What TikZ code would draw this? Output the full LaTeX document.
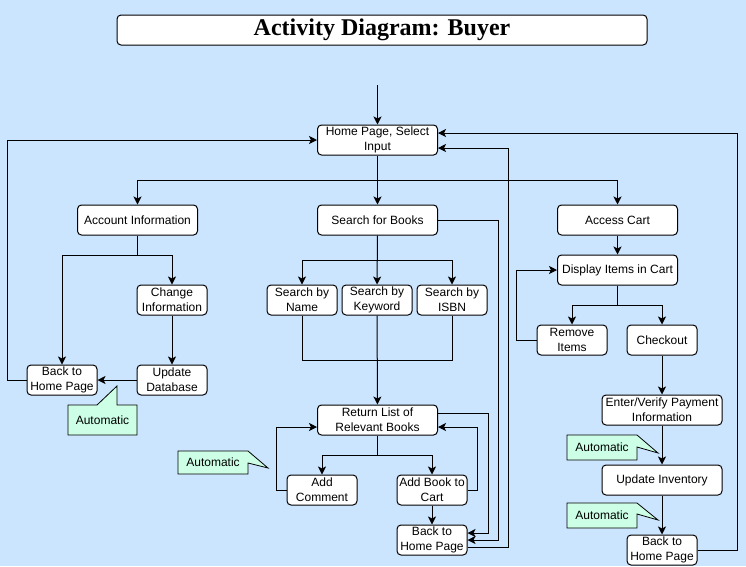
\documentclass[tikz,border=0pt]{standalone}
\usepackage{fontspec}
\setmainfont{Liberation Serif}
\setsansfont{Liberation Sans}
\usepackage{tikz}
\usetikzlibrary{arrows.meta,calc}
\definecolor{bg_blue}{RGB}{204, 229, 255}
\definecolor{note_green}{RGB}{204, 255, 230}
\tikzstyle{act}=[rectangle,rounded corners=4pt,fill=white,draw=black,
  line width=1pt,inner sep=1pt,align=center,minimum height=30pt,
  font=\sffamily\fontsize{12}{15}\selectfont]
\tikzstyle{wide}=[act,minimum width=120pt]
\tikzstyle{slim}=[act,minimum width=70pt]
\tikzstyle{flow}=[line width=1pt,-{Stealth[length=8pt,width=8pt,inset=2pt]}]
\tikzstyle{line}=[line width=1pt]
\tikzstyle{note}=[fill=note_green,draw=black,line width=0.8pt]
\tikzstyle{notetext}=[font=\sffamily\fontsize{12}{15}\selectfont]

\begin{document}
\begin{tikzpicture}[x=1pt,y=-1pt]
    \fill[bg_blue] (0,0) rectangle (746,566);
    \useasboundingbox (0,0) rectangle (746,566);
    % title
    \node [rectangle,rounded corners=4pt,fill=white,draw=black,line width=1pt,
      minimum width=530pt,minimum height=30pt,
      font=\bfseries\fontsize{24}{28}\selectfont] (title) at (382,30) {Activity Diagram: Buyer};
    % activities
    \coordinate (start) at (377.5,85);
    \node [style=wide] (home) at (377.5,140) {Home Page, Select\\Input};
    \node [style=wide] (acct) at (137.5,220) {Account Information};
    \node [style=wide] (search) at (377.5,220) {Search for Books};
    \node [style=wide] (cart) at (617.5,220) {Access Cart};
    \node [style=slim] (change) at (172,300) {Change\\Information};
    \node [style=slim] (update) at (172,380) {Update\\Database};
    \node [style=slim] (back1) at (62,380) {Back to\\Home Page};
    \node [style=slim] (byname) at (302,300) {Search by\\Name};
    \node [style=slim] (bykey) at (377,300) {Search by\\Keyword};
    \node [style=slim] (byisbn) at (452,300) {Search by\\ISBN};
    \node [style=wide] (retlist) at (377.5,420) {Return List of\\Relevant Books};
    \node [style=slim] (comment) at (322,490) {Add\\Comment};
    \node [style=slim] (addcart) at (432,490) {Add Book to\\Cart};
    \node [style=slim] (back2) at (432,540) {Back to\\Home Page};
    \node [style=wide] (display) at (617.5,270) {Display Items in Cart};
    \node [style=slim] (remove) at (572,340) {Remove\\Items};
    \node [style=slim] (checkout) at (662,340) {Checkout};
    \node [style=wide] (payment) at (662,410) {Enter/Verify Payment\\Information};
    \node [style=wide] (inventory) at (662,480) {Update Inventory};
    \node [style=slim] (back3) at (662,550) {Back to\\Home Page};
    % bus points
    \coordinate (hbus) at (377.5,180);
    \coordinate (abus) at (137.5,255);
    \coordinate (sbus) at (377.5,260);
    \coordinate (mbus) at (377,360);
    \coordinate (rbus) at (377.5,455);
    \coordinate (dbus) at (617.5,305);
    % connectors
    \draw [style=flow] (start) to (home);
    \draw [style=flow] (home) to (search);
    \draw [style=flow] (hbus) -| (acct.north);
    \draw [style=flow] (hbus) -| (cart.north);
    \draw [style=line] (acct.south) to (abus);
    \draw [style=flow] (abus) -| (back1.north);
    \draw [style=flow] (abus) -| (change.north);
    \draw [style=flow] (change) to (update);
    \draw [style=flow] (update) to (back1);
    \draw [style=flow] (back1.west) -- ++(-19,0) |- (home.west);
    \draw [style=flow] (search) to (bykey);
    \draw [style=flow] (sbus) -| (byname.north);
    \draw [style=flow] (sbus) -| (byisbn.north);
    \draw [style=line] (byname.south) |- (mbus) -| (byisbn.south);
    \draw [style=flow] (bykey) to (retlist);
    \draw [style=flow] (search.east) -- ++(60,0) |- (back2.east);
    \draw [style=flow] ($(retlist.east)+(0,-7)$) -- ++(50,0) |- ($(back2.east)+(0,-7)$);
    \draw [style=flow] ($(back2.east)+(0,7)$) -- ++(41,0) |- ($(home.east)+(0,8)$);
    \draw [style=line] (retlist.south) to (rbus);
    \draw [style=flow] (rbus) -| (comment.north);
    \draw [style=flow] (rbus) -| (addcart.north);
    \draw [style=flow] (comment.west) -- ++(-10,0) |- ($(retlist.west)+(0,7)$);
    \draw [style=flow] (addcart.east) -- ++(10,0) |- ($(retlist.east)+(0,7)$);
    \draw [style=flow] (addcart) to (back2);
    \draw [style=flow] (cart) to (display);
    \draw [style=line] (display.south) to (dbus);
    \draw [style=flow] (dbus) -| (remove.north);
    \draw [style=flow] (dbus) -| (checkout.north);
    \draw [style=flow] (remove.west) -- ++(-20,0) |- (display.west);
    \draw [style=flow] (checkout) to (payment);
    \draw [style=flow] (payment) to (inventory);
    \draw [style=flow] (inventory) to (back3);
    \draw [style=flow] (back3.east) -- ++(40,0) |- ($(home.east)+(0,-7)$);
    % callouts
    \draw [style=note] (68,405) -- (97,405) -- (117,386) -- (117,405) -- (137,405)
      -- (137,435) -- (68,435) -- cycle;
    \node [style=notetext] (auto1) at (102.5,420) {Automatic};
    \draw [style=note] (178,451) -- (248,451) -- (268,468) -- (248,463) -- (248,474)
      -- (178,474) -- cycle;
    \node [style=notetext] (auto2) at (213,462.5) {Automatic};
    \draw [style=note] (567,435) -- (637,435) -- (658,453) -- (637,447) -- (637,460)
      -- (567,460) -- cycle;
    \node [style=notetext] (auto3) at (602,447.5) {Automatic};
    \draw [style=note] (567,503) -- (637,503) -- (658,520) -- (637,514) -- (637,528)
      -- (567,528) -- cycle;
    \node [style=notetext] (auto4) at (602,515.5) {Automatic};
  \end{tikzpicture}
\end{document}
